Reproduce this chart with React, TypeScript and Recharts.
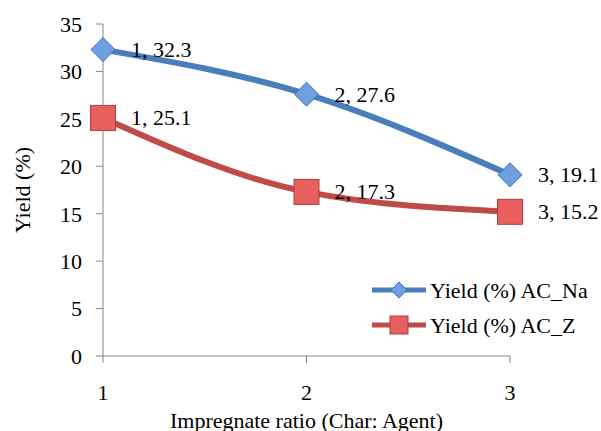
import React from "react";
import { LineChart, Line, XAxis, YAxis } from "recharts";

const ratios = [1, 2, 3];
const yieldNa = [32.3, 27.6, 19.1];
const yieldZ = [25.1, 17.3, 15.2];
const yTicks = [0, 5, 10, 15, 20, 25, 30, 35];

const data = ratios.map((r, i) => ({ ratio: r, na: yieldNa[i], z: yieldZ[i] }));

const FONT = "'Liberation Serif', 'DejaVu Serif', Tinos, 'Times New Roman', Times, serif";
const FS = 22;
const BLUE = "#4a7ebb";
const RED = "#be4b48";

const Diamond = ({ cx, cy, half = 12 }: any) => (
  <path
    d={`M${cx},${cy - half} L${cx + half},${cy} L${cx},${cy + half} L${cx - half},${cy} Z`}
    fill="#6f9fe0"
    stroke="#3d6fb0"
    strokeWidth={1}
  />
);

const Square = ({ cx, cy, half = 12.5 }: any) => (
  <rect x={cx - half} y={cy - half} width={half * 2} height={half * 2} fill="#e8605e" stroke="#b03c3a" strokeWidth={1} />
);

// etykieta "x, y" po prawej stronie punktu
const makeLabel = (values: number[]) => ({ x, y, index }: any) => (
  <text x={x + 28} y={y} dominantBaseline="central" fontFamily={FONT} fontSize={FS} fill="#000">
    {`${ratios[index]}, ${values[index]}`}
  </text>
);

const YLabel = ({ viewBox }: any) => {
  const cy = viewBox.y + viewBox.height / 2;
  return (
    <text x={22} y={cy} textAnchor="middle" dominantBaseline="central" transform={`rotate(-90, 22, ${cy})`} fontFamily={FONT} fontSize={FS} fill="#000">
      Yield (%)
    </text>
  );
};

const XLabel = ({ viewBox }: any) => (
  <text x={viewBox.x + viewBox.width / 2} y={420} textAnchor="middle" dominantBaseline="central" fontFamily={FONT} fontSize={FS} fill="#000">
    Impregnate ratio (Char: Agent)
  </text>
);

const LegendBox = () => (
  <svg width={240} height={80} style={{ position: "absolute", left: 370, top: 275 }}>
    <line x1={2} y1={15} x2={56} y2={15} stroke={BLUE} strokeWidth={5} />
    <Diamond cx={29} cy={15} half={8} />
    <text x={60} y={15} dominantBaseline="central" fontFamily={FONT} fontSize={FS}>Yield (%) AC_Na</text>
    <line x1={2} y1={50} x2={56} y2={50} stroke={RED} strokeWidth={5} />
    <Square cx={29} cy={50} half={9} />
    <text x={60} y={50} dominantBaseline="central" fontFamily={FONT} fontSize={FS}>Yield (%) AC_Z</text>
  </svg>
);

export default function App() {
  return (
    <div style={{ position: "absolute", left: 0, top: 0, width: 601, height: 431, background: "#fff", fontFamily: FONT }}>
      <LineChart width={601} height={431} data={data} margin={{ top: 24, right: 91, bottom: 45, left: 30 }}>
        <XAxis
          dataKey="ratio"
          type="number"
          domain={[1, 3]}
          ticks={ratios}
          stroke="#868686"
          tickLine={{ stroke: "#868686" }}
          tickSize={7}
          tickMargin={21}
          tick={{ fill: "#000", fontSize: FS, fontFamily: FONT }}
          label={<XLabel />}
        />
        <YAxis
          domain={[0, 35]}
          ticks={yTicks}
          width={73}
          stroke="#868686"
          tickSize={7}
          tickMargin={14}
          tick={{ fill: "#000", fontSize: FS, fontFamily: FONT }}
          label={<YLabel />}
        />
        <Line
          dataKey="na"
          type="monotone"
          stroke={BLUE}
          strokeWidth={6}
          dot={<Diamond />}
          label={makeLabel(yieldNa)}
          isAnimationActive={false}
        />
        <Line
          dataKey="z"
          type="monotone"
          stroke={RED}
          strokeWidth={6}
          dot={<Square />}
          label={makeLabel(yieldZ)}
          isAnimationActive={false}
        />
      </LineChart>
      <LegendBox />
    </div>
  );
}
